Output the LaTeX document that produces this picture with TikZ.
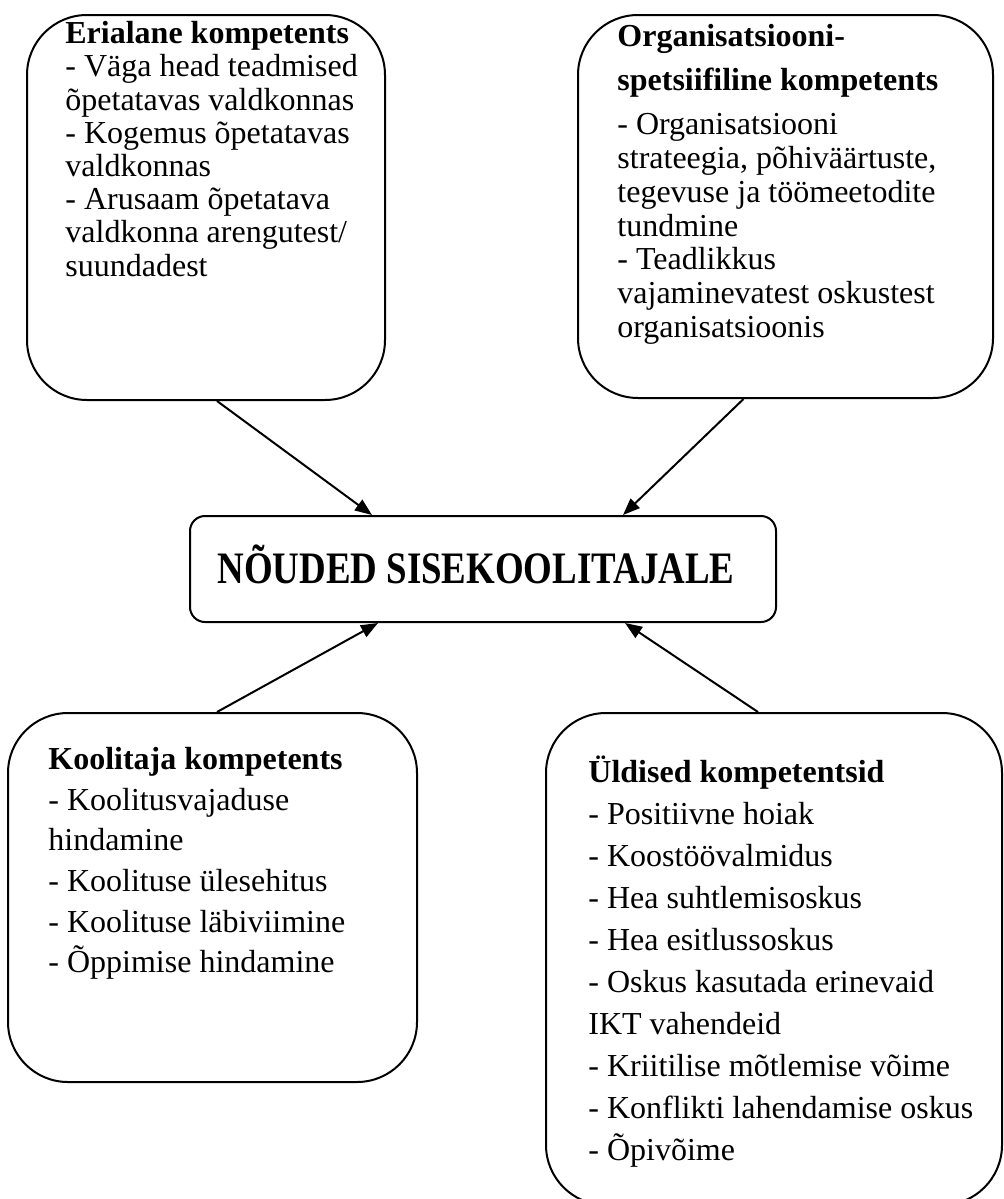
\documentclass[tikz,border=0pt]{standalone}
\usepackage{fontspec}
\setmainfont{Liberation Serif}
\usetikzlibrary{positioning,arrows.meta}

\begin{document}
\begin{tikzpicture}[
    x=0.5pt, y=-0.5pt,
    box/.style={
        rectangle,
        rounded corners=30pt,
        draw=black,
        line width=1pt,
        inner sep=0pt
    },
    mainbox/.style={
        rectangle,
        rounded corners=7.5pt,
        draw=black,
        line width=1pt,
        inner sep=0pt
    },
    boxtext/.style={
        anchor=north west,
        inner sep=0pt,
        align=left
    },
    arrow/.style={-{Triangle[length=8.5pt,width=6.5pt]}, line width=1pt, black}
]
\useasboundingbox[fill=white] (0,0) rectangle (1004,1199);
\clip (0,0) rectangle (1004,1199);

\node[box, minimum width=179pt, minimum height=192.5pt] (tl) at (206,207.5) {};
\node[box, minimum width=207.5pt, minimum height=191.5pt] (tr) at (785.5,206.5) {};
\node[mainbox, minimum width=293pt, minimum height=53pt] (ce) at (483,569) {};
\node[box, minimum width=204.5pt, minimum height=184.5pt] (bl) at (212.5,897.5) {};
\node[box, minimum width=228pt, minimum height=246pt] (br) at (774,959) {};

\node[boxtext, font=\fontsize{16}{16.6}\selectfont] (tlText) at (65,21) {\textbf{Erialane kompetents}\\
- Väga head teadmised\\
õpetatavas valdkonnas\\
- Kogemus õpetatavas\\
valdkonnas\\
- Arusaam õpetatava\\
valdkonna arengutest/\\
suundadest};

\node[boxtext, font=\fontsize{16}{16.9}\selectfont] (trText) at (617,24) {\textbf{Organisatsiooni-}\\[5.1pt]
\textbf{spetsiifiline kompetents}\\[5.1pt]
- Organisatsiooni\\
strateegia, põhiväärtuste,\\
tegevuse ja töömeetodite\\
tundmine\\
- Teadlikkus\\
vajaminevatest oskustest\\
organisatsioonis};

\node[anchor=base west, inner sep=0pt] (ceText) at (217,583)
    {\scalebox{0.82}[1]{\fontsize{22.5}{24}\selectfont\bfseries NÕUDED SISEKOOLITAJALE}};

\node[boxtext, font=\fontsize{16}{20.3}\selectfont] (blText) at (48,747) {\textbf{Koolitaja kompetents}\\
- Koolitusvajaduse\\
hindamine\\
- Koolituse ülesehitus\\
- Koolituse läbiviimine\\
- Õppimise hindamine};

\node[boxtext, font=\fontsize{16}{21}\selectfont] (brText) at (588,755) {\textbf{Üldised kompetentsid}\\
- Positiivne hoiak\\
- Koostöövalmidus\\
- Hea suhtlemisoskus\\
- Hea esitlussoskus\\
- Oskus kasutada erinevaid\\
IKT vahendeid\\
- Kriitilise mõtlemise võime\\
- Konflikti lahendamise oskus\\
- Õpivõime};

\draw[arrow] ([xshift=5.5pt]tl.south) -- ([xshift=-55.5pt]ce.north);
\draw[arrow] ([xshift=-21pt]tr.south) -- ([xshift=70pt]ce.north);
\draw[arrow] ([xshift=2.25pt]bl.north) -- ([xshift=-52.5pt]ce.south);
\draw[arrow] ([xshift=-8pt]br.north) -- ([xshift=71pt]ce.south);
\end{tikzpicture}
\end{document}
